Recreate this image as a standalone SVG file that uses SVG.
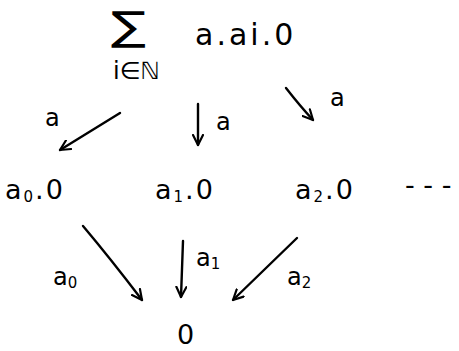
<svg xmlns="http://www.w3.org/2000/svg" width="459" height="351" viewBox="0 0 459 351">
<style>
text{font-family:"DejaVu Sans","Liberation Sans",sans-serif;fill:#000}
.t{font-size:27px}
.n{font-size:27px;letter-spacing:2px}
.l{font-size:24px}
.s{font-size:15px}
.c path{fill:none;stroke:#000;stroke-width:2.4;stroke-linecap:round;stroke-linejoin:round}
</style>
<defs>
<marker id="ah" viewBox="0 0 12 12" refX="11" refY="6" markerWidth="12" markerHeight="12" markerUnits="userSpaceOnUse" orient="auto">
<path d="M1,1 L11,6 L1,11" fill="none" stroke="#000" stroke-width="2.2" stroke-linecap="round" stroke-linejoin="round"/>
</marker>
</defs>
<rect width="459" height="351" fill="#fff"/>
<g id="sum">
<text x="0" y="0" style="font-size:40px" transform="translate(111,40) scale(1.3,1)">∑</text>
<text x="113" y="79" style="font-size:24px">i∈ℕ</text>
<text x="195" y="45" style="font-size:30px;letter-spacing:3px">a.ai.0</text>
</g>
<g id="n0"><text x="5" y="199" class="n">a<tspan class="s" dy="3">0</tspan><tspan dy="-3">.0</tspan></text></g>
<g id="n1"><text x="155" y="199" class="n">a<tspan class="s" dy="3">1</tspan><tspan dy="-3">.0</tspan></text></g>
<g id="n2"><text x="295" y="199" class="n">a<tspan class="s" dy="3">2</tspan><tspan dy="-3">.0</tspan></text></g>
<g id="dots"><text x="405" y="194" class="t">- - -</text></g>
<g id="nil"><text x="177" y="344" class="t">0</text></g>
<g class="c" id="connectors">
<path d="M120,113 L60,150" marker-end="url(#ah)"/>
<path d="M198,104 L198,145" marker-end="url(#ah)"/>
<path d="M286,88 Q300,106 313,120" marker-end="url(#ah)"/>
<path d="M83,226 Q110,258 142,300" marker-end="url(#ah)"/>
<path d="M183,241 L181,297" marker-end="url(#ah)"/>
<path d="M297,238 L233,300" marker-end="url(#ah)"/>
</g>
<g id="labels">
<text x="45" y="126" class="l">a</text>
<text x="216" y="130" class="l">a</text>
<text x="330" y="106" class="l">a</text>
<text x="53" y="285" class="l">a<tspan class="s" dy="3">0</tspan></text>
<text x="196" y="266" class="l">a<tspan class="s" dy="3">1</tspan></text>
<text x="287" y="285" class="l">a<tspan class="s" dy="3">2</tspan></text>
</g>
</svg>
